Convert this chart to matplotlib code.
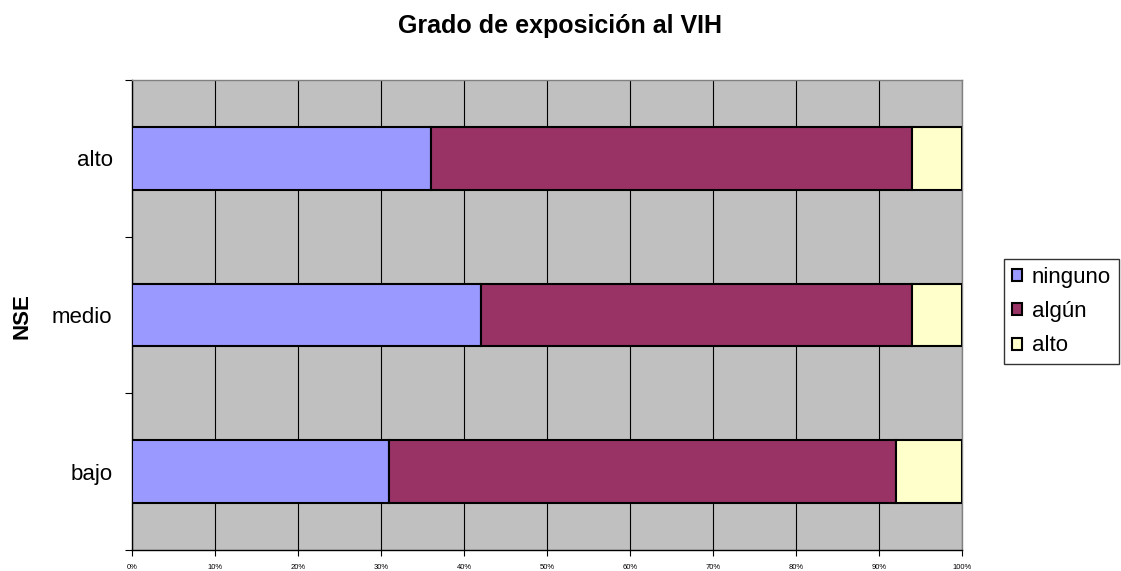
import matplotlib
matplotlib.use("Agg")
import matplotlib.pyplot as plt
from matplotlib.ticker import MultipleLocator, FuncFormatter, FixedLocator
from matplotlib.patches import Patch

plt.rcParams['font.family'] = ['Liberation Sans', 'DejaVu Sans']

categories = ["bajo", "medio", "alto"]
series_names = ["ninguno", "algún", "alto"]
ninguno = [31, 42, 36]
algun = [61, 52, 58]
alto = [8, 6, 6]
colors = ["#9999FF", "#993366", "#FFFFCC"]

fig = plt.figure(figsize=(11.21, 5.71), dpi=100)
ax = fig.add_axes([132/1121, 1-550/571, (962-132)/1121, (550-80)/571])
ax.set_facecolor("#C0C0C0")

ypos = list(range(len(categories)))
left = [0]*len(categories)
for vals, name, c in zip([ninguno, algun, alto], series_names, colors):
    ax.barh(ypos, vals, left=left, height=0.4, color=c, edgecolor="black", linewidth=1.5, label=name, zorder=3)
    left = [l+v for l, v in zip(left, vals)]

ax.set_xlim(0, 100)
ax.set_ylim(-0.5, 2.5)
ax.xaxis.set_major_locator(MultipleLocator(10))
ax.xaxis.set_major_formatter(FuncFormatter(lambda v, p: f"{int(v)}%"))
ax.grid(axis="x", color="black", linewidth=0.8, zorder=1)
ax.set_axisbelow(True)
ax.set_yticks(ypos)
ax.set_yticklabels(categories, fontsize=16)
ax.yaxis.set_minor_locator(FixedLocator([-0.5, 0.5, 1.5, 2.5]))
ax.tick_params(axis="y", which="major", length=0, pad=14)
ax.tick_params(axis="y", which="minor", length=5, width=0.8)
ax.tick_params(axis="x", labelsize=5.5, length=4, width=0.8, pad=6)

for s in ["top", "right"]:
    ax.spines[s].set_color("#808080")
    ax.spines[s].set_linewidth(1)
for s in ["left", "bottom"]:
    ax.spines[s].set_color("black")
    ax.spines[s].set_linewidth(1)

fig.text(22/1121, 1-316/571, "NSE", rotation=90, ha="center", va="center", fontsize=16, fontweight="bold")
fig.text(0.5, 1-26/571, "Grado de exposición al VIH", ha="center", va="center", fontsize=18, fontweight="bold")

handles = [Patch(facecolor=c, edgecolor="black", linewidth=1.5, label=n) for c, n in zip(colors, series_names)]
leg = fig.legend(handles=handles, loc="upper left", bbox_to_anchor=(1004/1121, 1-259/571),
                 frameon=True, fancybox=False, fontsize=16, handlelength=0.45, handleheight=0.45,
                 handletextpad=0.45, borderpad=0.35, labelspacing=0.6, borderaxespad=0)
leg.get_frame().set_edgecolor("black")
leg.get_frame().set_linewidth(1)

fig.savefig("out.png", dpi=100, facecolor="white")
